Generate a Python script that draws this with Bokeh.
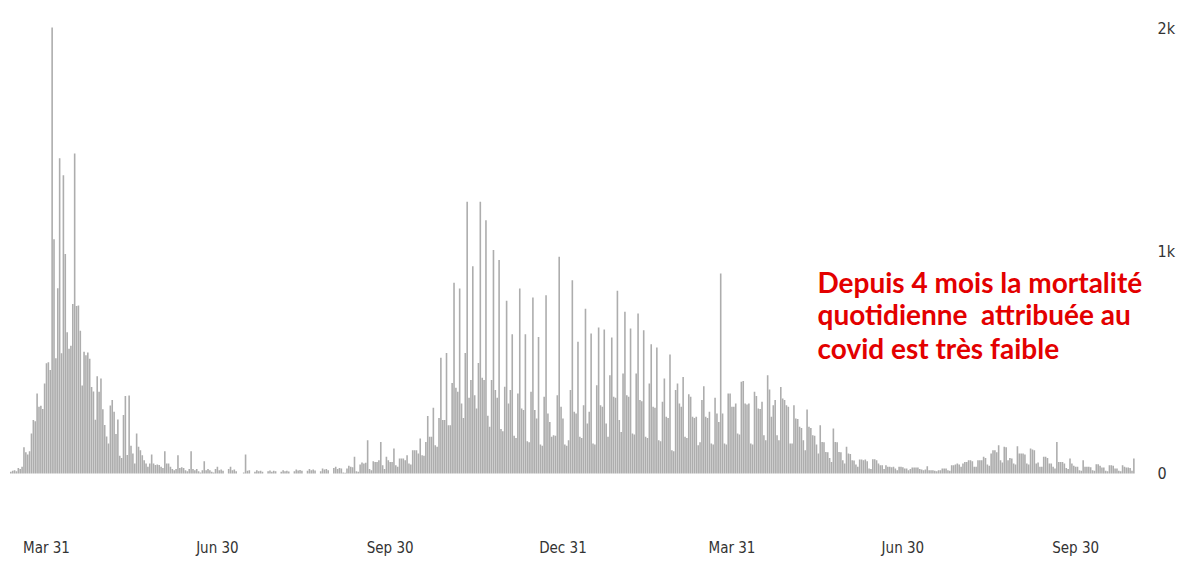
import pandas as pd
from bokeh.plotting import figure
from bokeh.models import ColumnDataSource, FixedTicker, DatetimeTickFormatter, Range1d, Label
from bokeh.embed import file_html
from bokeh.resources import INLINE

# Daily deaths attributed to covid (France)
first_day = "2020-03-12"
mar_2020 = [8, 12, 15, 10, 25, 20, 30, 118, 95, 85, 100, 180, 240, 235, 360, 300, 305, 290, 405, 495]
apr_2020 = [500, 465, 2004, 1053, 518, 833, 1417, 541, 1341, 987, 635, 561, 574, 762, 1438, 753, 755, 642, 395, 547,
            531, 544, 516, 389, 369, 242, 437, 367, 427, 289]
may_2020 = [218, 166, 135, 306, 330, 278, 178, 243, 80, 70, 263, 348, 83, 351, 125, 90, 45, 180, 120, 105,
            82, 60, 45, 30, 45, 85, 45, 38, 40, 38, 30]
jun_2020 = [25, 100, 45, 45, 30, 20, 15, 20, 82, 25, 28, 25, 15, 10, 20, 100, 20, 15, 20, 10,
            5, 15, 55, 15, 20, 15, 8, 5, 20, 30]
jul_2020 = [15, 18, 12, 0, 0, 20, 30, 15, 18, 10, 0, 0, 0, 5, 85, 12, 15, 0, 0, 8,
            15, 10, 12, 8, 0, 0, 10, 14, 8, 12, 10]
aug_2020 = [0, 0, 8, 15, 10, 12, 9, 0, 0, 10, 18, 14, 16, 12, 0, 0, 12, 20, 15, 18,
            14, 0, 0, 10, 22, 18, 20, 15, 0, 0, 25]
sep_2020 = [30, 20, 25, 22, 5, 3, 22, 35, 30, 28, 75, 10, 8, 40, 50, 45, 48, 150, 20, 15,
            55, 52, 52, 60, 142, 37, 20, 75, 60, 52]
oct_2020 = [52, 112, 37, 30, 67, 67, 67, 60, 82, 45, 40, 105, 105, 105, 90, 157, 82, 80, 142, 258,
            165, 165, 295, 127, 120, 250, 520, 240, 240, 542, 217]
nov_2020 = [217, 407, 857, 385, 367, 831, 315, 250, 542, 1221, 340, 420, 932, 352, 292, 497, 1221, 430, 420, 1138,
            260, 210, 420, 1004, 375, 340, 959, 200, 190, 390]
dec_2020 = [776, 315, 375, 626, 170, 160, 360, 831, 292, 285, 626, 145, 140, 367, 791, 285, 247, 614, 130, 125,
            345, 801, 270, 232, 165, 172, 170, 352, 974, 300, 247]
jan_2021 = [130, 125, 150, 375, 869, 277, 270, 592, 165, 160, 307, 741, 225, 277, 629, 135, 130, 397, 656, 307,
            300, 647, 225, 165, 442, 611, 345, 340, 821, 240, 187]
feb_2021 = [449, 727, 352, 345, 652, 180, 175, 449, 719, 330, 325, 644, 165, 160, 404, 581, 300, 295, 566, 150,
            145, 322, 427, 255, 250, 535, 105, 100]
mar_2021 = [375, 404, 315, 300, 434, 165, 160, 356, 345, 255, 250, 255, 127, 140, 330, 392, 255, 250, 277, 135,
            130, 341, 270, 232, 899, 270, 135, 130, 360, 360, 300]
apr_2021 = [300, 315, 180, 175, 412, 416, 315, 310, 315, 135, 130, 367, 348, 292, 290, 322, 172, 150, 442, 377,
            255, 307, 330, 172, 150, 389, 337, 330, 307, 300]
may_2021 = [135, 135, 307, 247, 245, 210, 205, 150, 105, 288, 210, 205, 172, 170, 130, 90, 217, 142, 140, 97,
            95, 70, 52, 202, 142, 140, 97, 95, 60, 45, 120]
jun_2021 = [90, 88, 60, 58, 40, 30, 63, 63, 60, 63, 55, 22, 20, 64, 64, 60, 45, 37, 37, 20,
            37, 30, 30, 28, 30, 22, 15, 30, 30, 28]
jul_2021 = [22, 22, 15, 20, 27, 27, 27, 27, 20, 18, 15, 18, 33, 15, 15, 15, 12, 10, 15, 15,
            22, 22, 22, 15, 12, 37, 37, 40, 45, 40, 30]
aug_2021 = [45, 52, 52, 60, 60, 55, 30, 30, 60, 60, 60, 75, 70, 40, 35, 90, 105, 105, 95, 127,
            60, 50, 120, 118, 60, 70, 67, 45, 40, 123, 90]
sep_2021 = [90, 90, 85, 45, 40, 112, 108, 105, 45, 50, 30, 30, 75, 75, 70, 45, 45, 30, 22, 142,
            52, 52, 52, 45, 25, 20, 67, 45, 35, 30]
oct_2021 = [30, 15, 12, 60, 30, 30, 30, 28, 15, 12, 42, 42, 35, 27, 27, 12, 10, 37, 37, 35,
            22, 22, 12, 10, 37, 30, 27, 27, 25, 12, 67]

tick_dates = ["2020-03-31", "2020-06-30", "2020-09-30", "2020-12-31", "2021-03-31", "2021-06-30", "2021-09-30"]
y_ticks = [0, 1000, 2000]
y_tick_labels = ["0", "1k", "2k"]
note_lines = ["Depuis 4 mois la mortalité", "quotidienne\u00a0 attribuée au", "covid est très faible"]

months = [mar_2020, apr_2020, may_2020, jun_2020, jul_2020, aug_2020, sep_2020, oct_2020, nov_2020, dec_2020,
          jan_2021, feb_2021, mar_2021, apr_2021, may_2021, jun_2021, jul_2021, aug_2021, sep_2021, oct_2021]
deaths = [v for m in months for v in m]
dates = pd.date_range(first_day, periods=len(deaths), freq="D")

DAY = 86400000.0
def ms(s):
    return pd.Timestamp(s).value / 1e6

ref = ms("2020-03-31")
px_per_day = 1.878
frame_left, frame_right = 8, 1147
x_start = ref + (frame_left - 46) / px_per_day * DAY
x_end = ref + (frame_right - 46) / px_per_day * DAY

px_per_unit = 0.2225
y_start = -(480 - 473) / px_per_unit
y_end = y_start + 470 / px_per_unit

src = ColumnDataSource(dict(date=dates, deaths=deaths))

p = figure(x_axis_type="datetime", frame_width=frame_right - frame_left, frame_height=470,
           output_backend="svg", toolbar_location=None, y_axis_location="right",
           x_range=Range1d(x_start, x_end), y_range=Range1d(y_start, y_end),
           min_border_left=frame_left, min_border_top=10, min_border_right=0, min_border_bottom=0)
p.outline_line_color = None
p.xgrid.grid_line_color = None
p.ygrid.grid_line_color = None
p.background_fill_color = "white"
p.border_fill_color = "white"

p.vbar(x="date", top="deaths", bottom=0, width=0.85 * DAY, source=src,
       fill_color="#adadad", line_color=None)

label_font = "'Liberation Sans Narrow', 'DejaVu Sans Condensed', sans-serif"

xa = p.xaxis[0]
xa.ticker = FixedTicker(ticks=[ms(d) for d in tick_dates])
xa.formatter = DatetimeTickFormatter(days="%b %d", months="%b %d", years="%b %d")
xa.axis_line_color = None
xa.major_tick_line_color = None
xa.minor_tick_line_color = None
xa.major_label_standoff = 52
xa.major_label_text_font = label_font
xa.major_label_text_font_size = "15px"
xa.major_label_text_color = "#333333"

ya = p.yaxis[0]
ya.ticker = FixedTicker(ticks=y_ticks)
ya.major_label_overrides = {t: l for t, l in zip(y_ticks, y_tick_labels)}
ya.axis_line_color = None
ya.major_tick_line_color = None
ya.minor_tick_line_color = None
ya.major_tick_out = 0
ya.major_tick_in = 0
ya.major_label_standoff = 10
ya.major_label_text_font = label_font
ya.major_label_text_font_size = "16px"
ya.major_label_text_color = "#333333"

note_x = ref + (817 - 46) / px_per_day * DAY
note_y = [(473 - b) / px_per_unit for b in (281, 313, 347)]
for txt, yy in zip(note_lines, note_y):
    p.add_layout(Label(x=note_x, y=yy, text=txt, text_color="#e30000", text_font="Lato",
                       text_font_style="bold", text_font_size="28px",
                       text_align="left", text_baseline="alphabetic"))

open("out.html", "w").write(file_html(p, INLINE))
